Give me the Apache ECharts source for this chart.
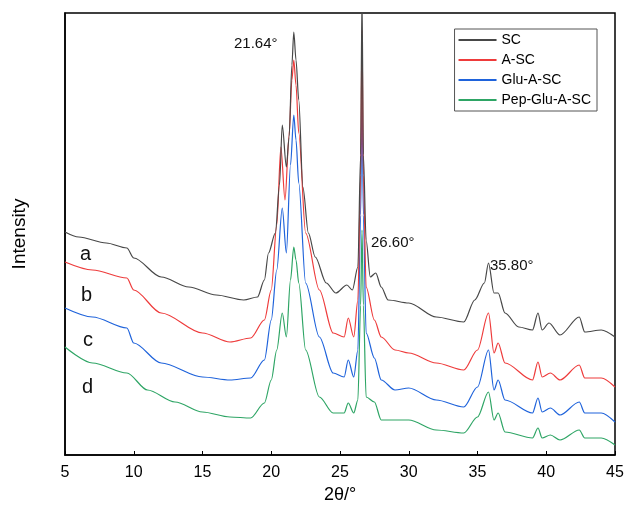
<!DOCTYPE html>
<html>
<head>
<meta charset="UTF-8">
<script src="https://cdn.jsdelivr.net/npm/echarts@6/dist/echarts.min.js"></script>
<style>body{margin:0;background:#fff}</style>
</head>
<body>
<div id="main" style="width:627px;height:517px;"></div>
<script>
// 2θ / intensity (arbitrary units)
var sc = [[5,223],[6,218],[8,212],[9.5,207],[10,197],[12,178],[14,168],[16,160],[18,155],[19,158],[19.5,175],[19.8,202],[20.3,222],[20.6,270],[20.8,330],[21.1,288],[21.3,318],[21.5,390],[21.64,423],[21.8,395],[22,355],[22.3,268],[22.7,222],[23.2,198],[24,172],[24.7,162],[25.5,170],[25.9,165],[26.3,188],[26.5,300],[26.6,460],[26.7,300],[26.9,215],[27.2,178],[27.6,182],[28,168],[28.5,155],[30,152],[32,138],[34,133],[34.8,155],[35.5,172],[35.8,192],[36.2,162],[36.5,162],[37,142],[38,128],[39,125],[39.4,142],[39.7,125],[40.2,132],[41,120],[42.4,138],[42.8,123],[44,125],[45,118]];
var asc = [[5,193],[7,185],[9.5,177],[10,165],[12,142],[15,122],[17,113],[18.5,117],[19.5,135],[20,165],[20.4,230],[20.7,308],[21,255],[21.3,320],[21.5,375],[21.64,395],[21.8,370],[22,322],[22.5,222],[23.5,165],[24.5,122],[25.3,118],[25.6,137],[26,118],[26.3,155],[26.5,280],[26.6,425],[26.7,280],[26.9,168],[27.5,135],[28,118],[29,105],[30,102],[32,92],[34,85],[35,105],[35.8,142],[36.2,102],[36.5,112],[37,92],[39,75],[39.4,93],[39.7,78],[40.3,82],[41,75],[42.4,90],[42.8,77],[44,77],[45,68]];
var gluasc = [[5,147],[7,138],[9.5,127],[10,112],[12,92],[15,78],[17,75],[18.5,77],[19.5,95],[20,135],[20.4,185],[20.8,247],[21.1,202],[21.4,290],[21.64,340],[21.8,315],[22,272],[22.5,172],[23.5,118],[24.5,82],[25.3,78],[25.6,95],[26,78],[26.3,105],[26.5,240],[26.6,362],[26.7,240],[26.9,122],[27.5,97],[28,75],[29,65],[30,67],[32,55],[34,48],[35,68],[35.8,105],[36.2,65],[36.5,75],[37,55],[39,42],[39.4,57],[39.7,43],[40.3,47],[41,40],[42.4,53],[42.8,42],[44,42],[45,33]];
var pep = [[5,108],[7,92],[9.5,82],[11,65],[13,53],[15,43],[17,38],[18.5,37],[19.5,52],[20,75],[20.4,105],[20.8,142],[21.1,118],[21.4,175],[21.64,208],[21.8,195],[22,172],[22.5,105],[23.5,58],[24.5,42],[25.3,42],[25.6,52],[26,42],[26.3,55],[26.5,150],[26.6,225],[26.7,150],[26.9,58],[27.5,53],[28,35],[30,35],[32,25],[34,22],[35,38],[35.8,63],[36.2,35],[36.5,42],[37,23],[39,17],[39.4,27],[39.7,17],[40.3,20],[41,15],[42.4,25],[42.8,17],[44,17],[45,10]];
var names = ['SC','A-SC','Glu-A-SC','Pep-Glu-A-SC'];
var colors = ['#474747','#ee3b3b','#1f63db','#2ea565'];
var xTicks = [5,10,15,20,25,30,35,40,45];

var chart = echarts.init(document.getElementById('main'));
var all = [sc, asc, gluasc, pep];
var series = all.map(function(d, i){
  return {name:names[i], type:'line', data:d, showSymbol:false, smooth:0.3, smoothMonotone:'x',
          lineStyle:{width:1.2,color:colors[i]}, itemStyle:{color:colors[i]}, z:10-i};
});
var txt = function(t,x,y,s){return {type:'text',left:x,top:y,style:{text:t,fontSize:s||15,fill:'#111',fontFamily:'Arial'}};};
chart.setOption({
  animation:false,
  grid:{left:65,right:12,top:13,bottom:62,show:true,borderColor:'#000',borderWidth:1.5},
  xAxis:{type:'value',min:5,max:45,interval:5,name:'2θ/°',nameLocation:'middle',nameGap:30,
    nameTextStyle:{fontSize:18,color:'#000',fontFamily:'Arial'},
    axisLine:{lineStyle:{color:'#000',width:1.5}},axisTick:{show:true,inside:true,length:4,lineStyle:{color:'#000'}},
    axisLabel:{fontSize:16,color:'#000',fontFamily:'Arial',margin:10},splitLine:{show:false}},
  yAxis:{type:'value',min:0,max:442,name:'Intensity',nameLocation:'middle',nameGap:36,
    nameTextStyle:{fontSize:19,color:'#000',fontFamily:'Arial'},
    axisLine:{show:true,lineStyle:{color:'#000',width:1.5}},axisTick:{show:false},axisLabel:{show:false},splitLine:{show:false}},
  legend:{data:names,orient:'vertical',right:30,top:29,itemWidth:38,itemHeight:2,itemGap:6,icon:'rect',
    padding:[4,6,4,4],borderColor:'#555',borderWidth:1,backgroundColor:'#fff',
    textStyle:{fontSize:14,color:'#000',fontFamily:'Arial'}},
  graphic:[txt('21.64°',234,36),txt('26.60°',371,235),txt('35.80°',490,258),
    txt('a',80,244,20),txt('b',81,285,20),txt('c',83,330,20),txt('d',82,377,20)],
  series:series
});
</script>
</body>
</html>
